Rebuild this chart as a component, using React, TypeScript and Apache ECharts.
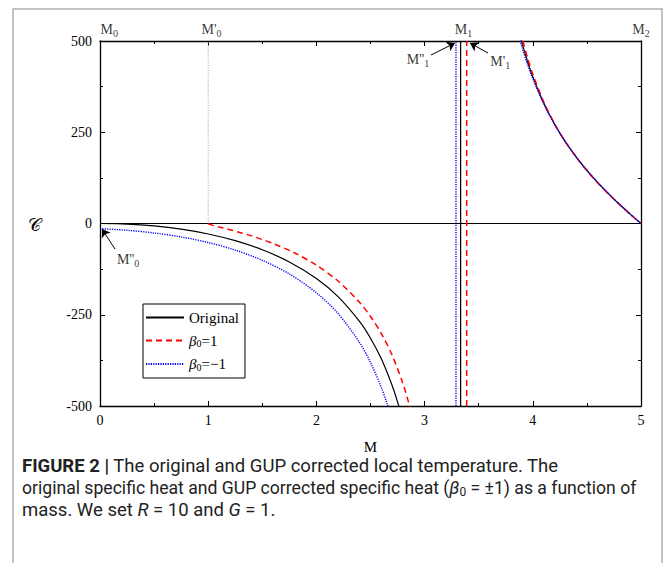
import React, { useEffect, useRef } from "react";
import * as echarts from "echarts";

// ---- axis ranges / ticks ----
const X_MIN = 0;
const X_MAX = 5;
const X_INTERVAL = 1;
const Y_MIN = -500;
const Y_MAX = 500;
const Y_INTERVAL = 250;

// ---- Original curve ----
const ORIG_LEFT_M = [0, 0.25, 0.5, 0.75, 1, 1.25, 1.5, 1.75, 2, 2.2, 2.4, 2.5, 2.6, 2.7, 2.75, 2.8, 2.9];
const ORIG_LEFT_C = [0, -1.6, -6.7, -15.5, -28.7, -47.1, -72.0, -105.3, -150.8, -200.4, -268.9, -314.2, -370.7, -443.6, -488.7, -541.9, -682.9];
const ORIG_RIGHT_M = [3.7, 3.8, 3.85, 3.9, 3.95, 4.0, 4.1, 4.2, 4.3, 4.4, 4.5, 4.6, 4.7, 4.8, 4.9, 5.0];
const ORIG_RIGHT_C = [813.3, 622.1, 552.8, 494.7, 445.1, 402.1, 330.6, 272.8, 224.3, 182.5, 145.4, 112.0, 81.3, 52.6, 25.7, 0];

// ---- beta0 = 1 curve ----
const POS_LEFT_M = [1, 1.02, 1.05, 1.1, 1.2, 1.3, 1.4, 1.5, 1.6, 1.8, 2.0, 2.2, 2.4, 2.5, 2.6, 2.7, 2.8, 2.85, 2.9, 3.0];
const POS_LEFT_C = [0, -3.2, -5.7, -9.5, -17.0, -25.1, -33.9, -43.8, -54.8, -80.9, -114.2, -157.6, -216.4, -254.7, -301.6, -360.9, -438.8, -487.9, -546.5, -707.3];
const POS_RIGHT_M = [3.7, 3.8, 3.85, 3.9, 3.95, 4.0, 4.1, 4.2, 4.3, 4.4, 4.5, 4.6, 4.7, 4.8, 4.9, 5.0];
const POS_RIGHT_C = [878.3, 652.0, 573.5, 509.1, 455.2, 409.1, 333.8, 273.9, 224.3, 181.9, 144.7, 111.2, 80.6, 52.2, 25.4, 0];

// ---- beta0 = -1 curve ----
const NEG_LEFT_M = [0, 0.25, 0.5, 0.75, 1, 1.25, 1.5, 1.75, 2, 2.2, 2.4, 2.5, 2.6, 2.65, 2.7, 2.8];
const NEG_LEFT_C = [-14.0, -18.6, -26.0, -36.8, -52.1, -72.9, -100.8, -138.2, -189.7, -246.6, -326.7, -380.7, -449.3, -491.1, -539.7, -665.1];
const NEG_RIGHT_M = [3.7, 3.8, 3.85, 3.9, 3.95, 4.0, 4.1, 4.2, 4.3, 4.4, 4.5, 4.6, 4.7, 4.8, 4.9, 5.0];
const NEG_RIGHT_C = [765.2, 598.9, 536.4, 483.1, 437.0, 396.4, 328.2, 272.1, 224.5, 183.1, 146.2, 112.7, 81.9, 53.1, 25.9, 0];

// ---- divergence points (M1, M'1, M''1) and remnant M'0 ----
const POLE_ORIG = 3.333;
const POLE_POS = 3.389;
const POLE_NEG = 3.29;
const REMNANT_POS = 1;

// ---- labels ----
const TOP_LABEL_M = [0.085, 1.03, 3.36, 5.0];
const TOP_LABEL_TEXT = ["{m|M}{s|0}", "{m|M'}{s|0}", "{m|M}{s|1}", "{m|M}{s|2}"];
const ANN_LABEL_POS = [
  [2.94, 449],
  [3.7, 444],
  [0.26, -99],
];
const ANN_LABEL_TEXT = ["{m|M''}{s|1}", "{m|M'}{s|1}", "{m|M''}{s|0}"];
// arrows: [fromM, fromC, toM, toC]
const ARROWS = [
  [3.059, 461.6, 3.281, 494.5],
  [3.586, 467, 3.42, 494.5],
  [0.139, -70, 0.018, -15],
];

const LEGEND_NAMES = ["Original", "beta=1", "beta=-1"];

const serif = '"Liberation Serif", "Times New Roman", serif';
const sans = "Roboto, sans-serif";

const pairs = (xs: number[], ys: number[]) => xs.map((x, i) => [x, ys[i]]);

function curve(name: string, data: number[][], color: string, type: any, width: number, z: number) {
  return {
    name,
    type: "line",
    data,
    symbol: "none",
    showSymbol: false,
    smooth: 0.3,
    clip: true,
    silent: true,
    z,
    itemStyle: { color },
    lineStyle: { color, width, type },
  };
}

function vline(name: string, x: number, y0: number, y1: number, color: string, type: any, width: number, z: number) {
  return {
    name,
    type: "line",
    data: [
      [x, y0],
      [x, y1],
    ],
    symbol: "none",
    showSymbol: false,
    clip: true,
    silent: true,
    z,
    itemStyle: { color },
    lineStyle: { color, width, type },
  };
}

const labelRich = {
  m: { fontFamily: serif, fontSize: 14, color: "#000", lineHeight: 18 },
  s: { fontFamily: serif, fontSize: 10, color: "#000", lineHeight: 10, verticalAlign: "bottom" },
};

const RED_DASH = [6, 4];
const BLUE_DOT = [1.2, 1.2];

export default function App() {
  const ref = useRef<HTMLDivElement>(null);

  useEffect(() => {
    if (!ref.current) return;
    const chart = echarts.init(ref.current, undefined, { renderer: "svg" });

    const axisCommon = {
      type: "value",
      axisLine: { show: true, onZero: false, lineStyle: { color: "#000", width: 1.3 } },
      axisTick: { show: true, inside: true, length: 5, lineStyle: { color: "#000", width: 1 } },
      minorTick: { show: true, splitNumber: 2, length: 3, lineStyle: { color: "#000", width: 1 } },
      splitLine: { show: false },
      minorSplitLine: { show: false },
    };

    const option: any = {
      animation: false,
      backgroundColor: "#fff",
      grid: { left: 100, right: 24, top: 41, bottom: 157, containLabel: false },
      xAxis: [
        {
          ...axisCommon,
          position: "bottom",
          min: X_MIN,
          max: X_MAX,
          interval: X_INTERVAL,
          axisLabel: { color: "#000", fontFamily: serif, fontSize: 14, margin: 7 },
          name: "M",
          nameLocation: "middle",
          nameGap: 33,
          nameTextStyle: { color: "#000", fontFamily: serif, fontSize: 15 },
        },
        {
          ...axisCommon,
          position: "top",
          min: X_MIN,
          max: X_MAX,
          interval: X_INTERVAL,
          axisLabel: { show: false },
        },
      ],
      yAxis: [
        {
          ...axisCommon,
          position: "left",
          min: Y_MIN,
          max: Y_MAX,
          interval: Y_INTERVAL,
          axisLabel: { color: "#000", fontFamily: serif, fontSize: 14, margin: 8 },
        },
        {
          ...axisCommon,
          position: "right",
          min: Y_MIN,
          max: Y_MAX,
          interval: Y_INTERVAL,
          axisLabel: { show: false },
        },
      ],
      legend: {
        data: LEGEND_NAMES,
        orient: "vertical",
        left: 143,
        top: 304,
        padding: [6, 6, 6, 2],
        itemGap: 8,
        itemWidth: 38,
        itemHeight: 14,
        borderColor: "#000",
        borderWidth: 1,
        borderRadius: 0,
        backgroundColor: "#fff",
        selectedMode: false,
        itemStyle: { opacity: 0, borderWidth: 0 },
        formatter: (name: string) =>
          name === "Original" ? "{t|Original}" : name === "beta=1" ? "{b|β}{s|0}{t|=1}" : "{b|β}{s|0}{t|=−1}",
        textStyle: {
          color: "#000",
          fontFamily: serif,
          fontSize: 15,
          rich: {
            t: { fontFamily: serif, fontSize: 15, color: "#000", lineHeight: 16 },
            b: { fontFamily: serif, fontSize: 15, color: "#000", fontStyle: "italic", lineHeight: 16 },
            s: { fontFamily: serif, fontSize: 10, color: "#000", lineHeight: 10, verticalAlign: "bottom" },
          },
        },
      },
      graphic: [
        {
          type: "rect",
          silent: true,
          z: -10,
          shape: { x: 13, y: 9, width: 649, height: 620 },
          style: { fill: "none", stroke: "#b0b0b0", lineWidth: 1.5 },
        },
        {
          type: "text",
          silent: true,
          x: 28,
          y: 224,
          style: {
            text: "𝒞",
            fontFamily: '"DejaVu Serif", "DejaVu Sans", serif',
            fontSize: 18,
            fill: "#000",
            align: "left",
            verticalAlign: "middle",
          },
        },
        {
          type: "text",
          silent: true,
          x: 22,
          y: 466,
          style: {
            text: "{b|FIGURE 2 |} The original and GUP corrected local temperature. The",
            fontFamily: sans,
            fontSize: 18.5,
            fill: "#222",
            verticalAlign: "middle",
            rich: {
              b: { fontFamily: sans, fontSize: 18.5, fontWeight: "bold", fill: "#222" },
            },
          },
        },
        {
          type: "text",
          silent: true,
          x: 22,
          y: 488,
          style: {
            text: "original specific heat and GUP corrected specific heat ({i|β}{sub|0} = ±1) as a function of",
            fontFamily: sans,
            fontSize: 17.6,
            fill: "#222",
            verticalAlign: "middle",
            rich: {
              i: { fontFamily: sans, fontSize: 17.6, fontStyle: "italic", fill: "#222", lineHeight: 20 },
              sub: { fontFamily: sans, fontSize: 12, fill: "#222", lineHeight: 12, verticalAlign: "bottom" },
            },
          },
        },
        {
          type: "text",
          silent: true,
          x: 22,
          y: 510,
          style: {
            text: "mass. We set {i|R} = 10 and {i|G} = 1.",
            fontFamily: sans,
            fontSize: 18.5,
            fill: "#222",
            verticalAlign: "middle",
            rich: {
              i: { fontFamily: sans, fontSize: 18.5, fontStyle: "italic", fill: "#222" },
            },
          },
        },
      ],
      series: [
        // zero line
        {
          name: "zero",
          type: "line",
          data: [
            [X_MIN, 0],
            [X_MAX, 0],
          ],
          symbol: "none",
          silent: true,
          z: 1,
          lineStyle: { color: "#000", width: 1 },
        },
        // M'0 reference
        vline("remnant", REMNANT_POS, 0, Y_MAX, "#a0a0a0", [1, 1.5], 1, 1),
        // Original
        curve("Original", pairs(ORIG_LEFT_M, ORIG_LEFT_C), "#000", "solid", 1.2, 2),
        curve("Original", pairs(ORIG_RIGHT_M, ORIG_RIGHT_C), "#000", "solid", 1.2, 2),
        vline("Original", POLE_ORIG, Y_MIN, Y_MAX, "#000", "solid", 1.2, 2),
        // beta0 = 1
        curve("beta=1", pairs(POS_LEFT_M, POS_LEFT_C), "#ff0000", RED_DASH, 1.5, 3),
        curve("beta=1", pairs(POS_RIGHT_M, POS_RIGHT_C), "#ff0000", RED_DASH, 1.5, 3),
        vline("beta=1", POLE_POS, Y_MIN, Y_MAX, "#ff0000", RED_DASH, 1.5, 3),
        // beta0 = -1
        curve("beta=-1", pairs(NEG_LEFT_M, NEG_LEFT_C), "#0000ff", BLUE_DOT, 1.4, 4),
        curve("beta=-1", pairs(NEG_RIGHT_M, NEG_RIGHT_C), "#0000ff", BLUE_DOT, 1.4, 4),
        vline("beta=-1", POLE_NEG, Y_MIN, Y_MAX, "#0000ff", BLUE_DOT, 1.4, 4),
        // top labels M0, M'0, M1, M2
        {
          name: "topLabels",
          type: "scatter",
          data: TOP_LABEL_M.map((m) => [m, Y_MAX]),
          symbol: "circle",
          symbolSize: 1,
          clip: false,
          silent: true,
          z: 6,
          itemStyle: { color: "rgba(0,0,0,0)" },
          label: {
            show: true,
            position: "top",
            distance: 2,
            formatter: (p: any) => TOP_LABEL_TEXT[p.dataIndex],
            rich: labelRich,
          },
        },
        // annotation labels + arrows
        {
          name: "annotations",
          type: "scatter",
          data: ANN_LABEL_POS,
          symbol: "circle",
          symbolSize: 1,
          clip: false,
          silent: true,
          z: 6,
          itemStyle: { color: "rgba(0,0,0,0)" },
          label: {
            show: true,
            position: "inside",
            formatter: (p: any) => ANN_LABEL_TEXT[p.dataIndex],
            rich: labelRich,
          },
          markLine: {
            silent: true,
            animation: false,
            label: { show: false },
            lineStyle: { color: "#000", width: 1, type: "solid" },
            emphasis: { disabled: true },
            data: ARROWS.map((a) => [
              { coord: [a[0], a[1]], symbol: "none" },
              { coord: [a[2], a[3]], symbol: "arrow", symbolSize: 8 },
            ]),
          },
        },
      ],
    };

    chart.setOption(option);
    return () => chart.dispose();
  }, []);

  return <div ref={ref} style={{ position: "absolute", left: 0, top: 0, width: 665, height: 563 }} />;
}
